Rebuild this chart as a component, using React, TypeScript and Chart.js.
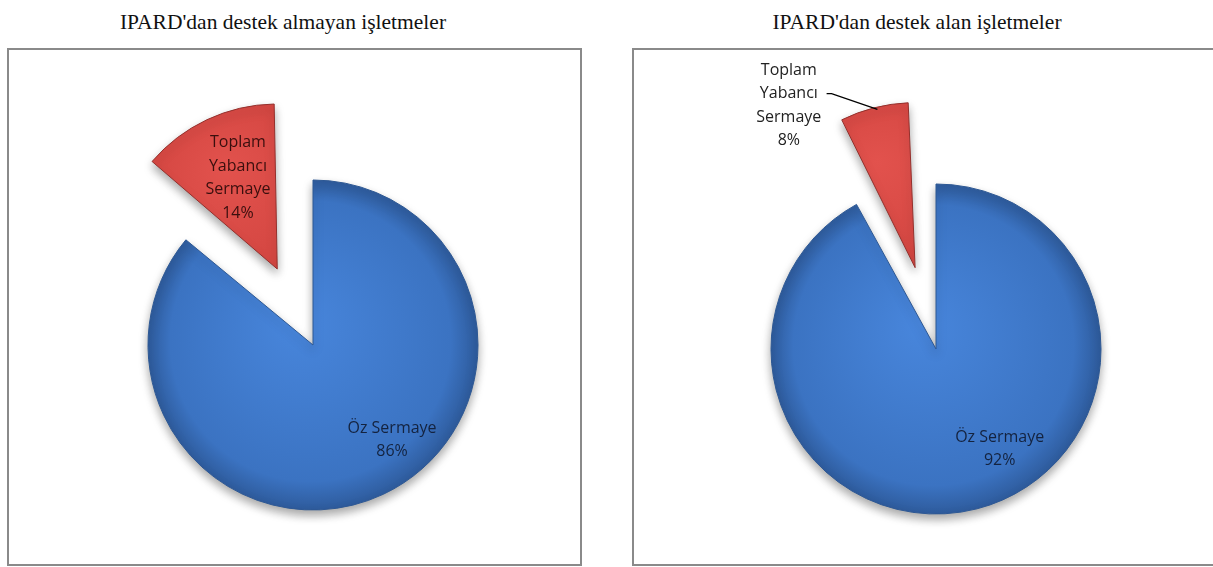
import { useEffect, useRef } from "react";
import { Chart, registerables } from "chart.js";

Chart.register(...registerables);

// ---- data ----
const categories = ["Öz Sermaye", "Toplam Yabancı Sermaye"];
const categoryLines = [["Öz Sermaye"], ["Toplam", "Yabancı", "Sermaye"]];
const leftTitle = "IPARD'dan destek almayan işletmeler";
const rightTitle = "IPARD'dan destek alan işletmeler";
const leftValues = [86, 14];
const rightValues = [92, 8];

// ---- styling ----
const PIE_R = 165;
const LABEL_FONT = '16px "Open Sans", "Noto Sans", sans-serif';
const LINE_H = 23.5;
const FILLS = [
  ["#4886dc", "#3b73c2", "#2e5b9c"],
  ["#e2524d", "#cc403b", "#a3302c"],
];
const BORDERS = ["#2d5894", "#94302c"];

type LabelSpec = {
  dx: number;
  dy: number;
  color: string;
  leader?: number[][];
};

function midAngle(data: number[], i: number) {
  const total = data.reduce((s, v) => s + v, 0);
  let before = 0;
  for (let k = 0; k < i; k++) before += data[k];
  return -Math.PI / 2 + ((before + data[i] / 2) / total) * Math.PI * 2;
}

function makeFill(explode: number[]) {
  return (c: any) => {
    const chart = c.chart;
    const a = chart.chartArea;
    const idx = c.dataIndex;
    if (!a || idx === undefined) return FILLS[idx ?? 0][1];
    const data = chart.data.datasets[0].data as number[];
    const mid = midAngle(data, idx);
    const t = explode[idx];
    const cx = (a.left + a.right) / 2 + Math.cos(mid) * t;
    const cy = (a.top + a.bottom) / 2 + Math.sin(mid) * t;
    const g = chart.ctx.createRadialGradient(
      cx - PIE_R * 0.1,
      cy - PIE_R * 0.15,
      0,
      cx,
      cy,
      PIE_R
    );
    g.addColorStop(0, FILLS[idx][0]);
    g.addColorStop(0.85, FILLS[idx][1]);
    g.addColorStop(1, FILLS[idx][2]);
    return g;
  };
}

function makePlugins(explode: number[], labels: LabelSpec[]) {
  const radiusFix = {
    id: "radiusFix",
    afterDatasetUpdate(chart: any) {
      const meta = chart.getDatasetMeta(0);
      meta.data.forEach((el: any, i: number) => {
        const off = explode[i] || 0;
        const fix = 1 - Math.sin(Math.min(Math.PI, el.circumference || 0));
        el.outerRadius = PIE_R - off * fix;
      });
    },
  };
  const shadow = {
    id: "pieShadow",
    beforeDatasetsDraw(chart: any) {
      const ctx = chart.ctx;
      ctx.save();
      ctx.shadowColor = "rgba(0,0,0,0.35)";
      ctx.shadowBlur = 10;
      ctx.shadowOffsetX = 0;
      ctx.shadowOffsetY = 5;
    },
    afterDatasetsDraw(chart: any) {
      chart.ctx.restore();
    },
  };
  const sliceLabels = {
    id: "sliceLabels",
    afterDatasetsDraw(chart: any) {
      const meta = chart.getDatasetMeta(0);
      const ctx = chart.ctx;
      const data = chart.data.datasets[0].data as number[];
      const total = data.reduce((s, v) => s + v, 0);
      const cx = meta.data[0].x;
      const cy = meta.data[0].y;
      labels.forEach((it, i) => {
        const lines = [...categoryLines[i], Math.round((data[i] / total) * 100) + "%"];
        ctx.save();
        ctx.font = LABEL_FONT;
        ctx.fillStyle = it.color;
        ctx.textAlign = "center";
        ctx.textBaseline = "middle";
        const x = cx + it.dx * PIE_R;
        const y0 = cy + it.dy * PIE_R - ((lines.length - 1) * LINE_H) / 2;
        lines.forEach((l, k) => ctx.fillText(l, x, y0 + k * LINE_H));
        if (it.leader) {
          ctx.beginPath();
          it.leader.forEach((p, k) => {
            const px = cx + p[0] * PIE_R;
            const py = cy + p[1] * PIE_R;
            if (k === 0) ctx.moveTo(px, py);
            else ctx.lineTo(px, py);
          });
          ctx.strokeStyle = "#000";
          ctx.lineWidth = 1.3;
          ctx.stroke();
        }
        ctx.restore();
      });
    },
  };
  return [shadow, radiusFix, sliceLabels];
}

type PieProps = {
  values: number[];
  explode: number[];
  labels: LabelSpec[];
  width: number;
  height: number;
  padLeft: number;
  padTop: number;
};

function Pie({ values, explode, labels, width, height, padLeft, padTop }: PieProps) {
  const ref = useRef<HTMLCanvasElement | null>(null);
  useEffect(() => {
    if (!ref.current) return;
    const chart = new Chart(ref.current, {
      type: "pie",
      data: {
        labels: categories,
        datasets: [
          {
            data: values,
            backgroundColor: makeFill(explode) as any,
            borderColor: BORDERS,
            borderWidth: 1,
            offset: explode.map((e) => e * 4),
            hoverOffset: 0,
          },
        ],
      },
      options: {
        animation: false,
        responsive: false,
        maintainAspectRatio: false,
        radius: PIE_R,
        layout: { padding: { left: padLeft, top: padTop, right: 0, bottom: 0 } },
        plugins: {
          legend: { display: false },
          tooltip: { enabled: false },
          title: { display: false },
        },
        events: [],
      } as any,
      plugins: makePlugins(explode, labels) as any,
    });
    return () => chart.destroy();
  }, []);
  return <canvas ref={ref} width={width} height={height} style={{ display: "block" }} />;
}

const titleStyle: React.CSSProperties = {
  position: "absolute",
  top: 10,
  width: 566,
  textAlign: "center",
  fontFamily: '"Liberation Serif", "Times New Roman", serif',
  fontSize: 21.5,
  fontWeight: 400,
  lineHeight: "25px",
  color: "#111",
  whiteSpace: "nowrap",
};

const boxStyle: React.CSSProperties = {
  position: "absolute",
  top: 48,
  height: 518,
  border: "2px solid #8a8a8a",
  boxSizing: "border-box",
  background: "#fff",
};

export default function App() {
  return (
    <div
      style={{
        position: "absolute",
        left: 0,
        top: 0,
        width: 1213,
        height: 567,
        overflow: "hidden",
        background: "#fff",
      }}
    >
      <div style={{ ...titleStyle, left: 0 }}>{leftTitle}</div>
      <div style={{ ...titleStyle, left: 634 }}>{rightTitle}</div>
      <div style={{ ...boxStyle, left: 7, width: 575 }}>
        <Pie
          values={leftValues}
          explode={[0, 84]}
          width={571}
          height={514}
          padLeft={37}
          padTop={76}
          labels={[
            { dx: 0.479, dy: 0.576, color: "#14233f" },
            { dx: -0.455, dy: -1.012, color: "#3a0f0e" },
          ]}
        />
      </div>
      <div style={{ ...boxStyle, left: 632, width: 600 }}>
        <Pie
          values={rightValues}
          explode={[0, 84]}
          width={596}
          height={514}
          padLeft={8}
          padTop={84}
          labels={[
            { dx: 0.386, dy: 0.605, color: "#14233f" },
            {
              dx: -0.892,
              dy: -1.476,
              color: "#222",
              leader: [
                [-0.663, -1.548],
                [-0.633, -1.548],
                [-0.355, -1.452],
              ],
            },
          ]}
        />
      </div>
    </div>
  );
}
